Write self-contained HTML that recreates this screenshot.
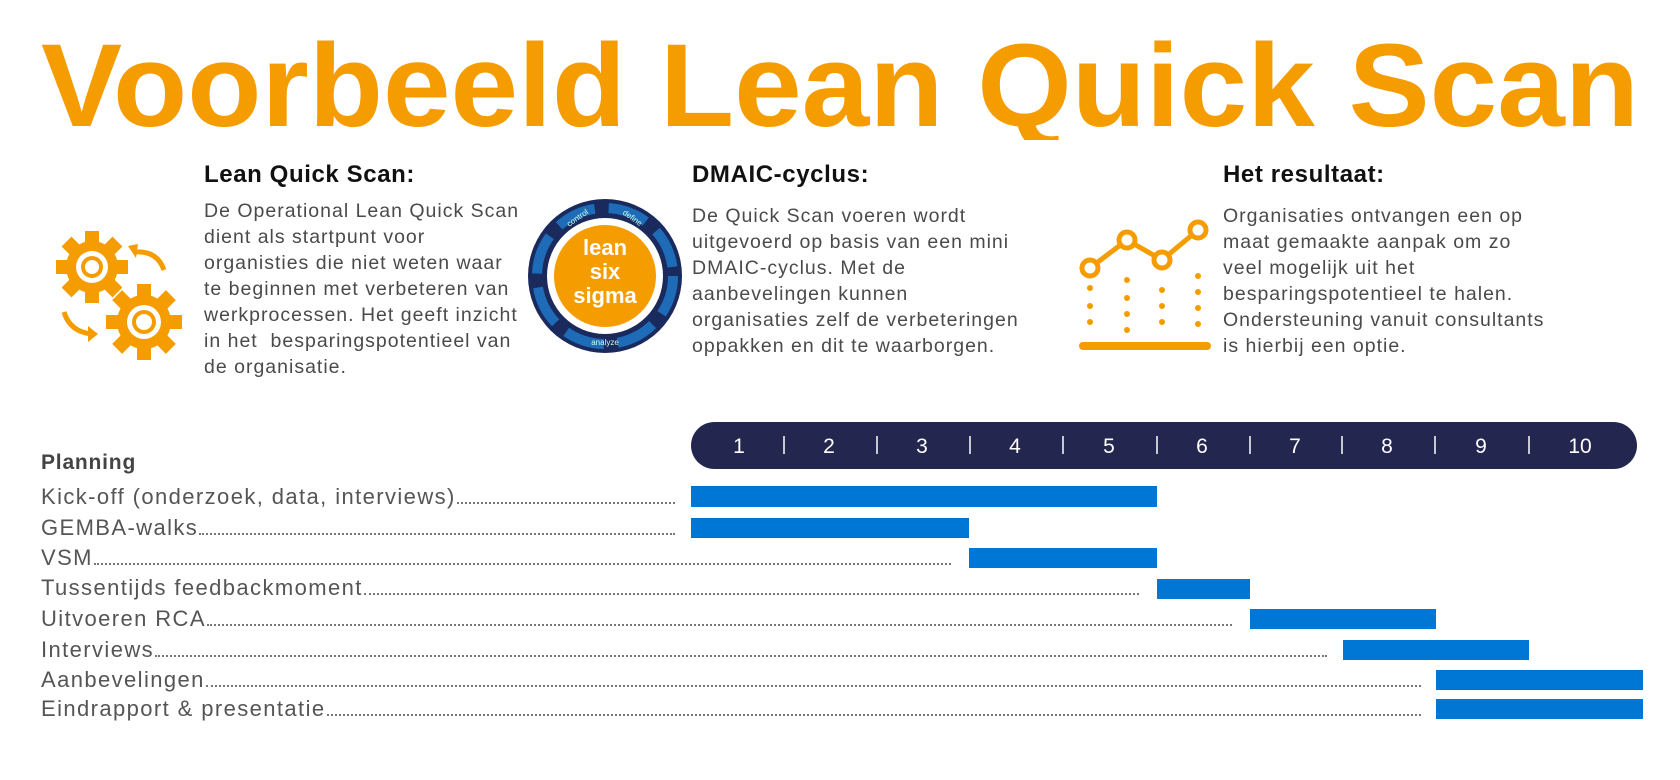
<!DOCTYPE html>
<html><head><meta charset="utf-8"><style>
body{margin:0;width:1680px;height:780px;background:#fff;position:relative;overflow:hidden;font-family:"Liberation Sans",sans-serif}
.abs{position:absolute}
h3{position:absolute;margin:0;font-size:24px;font-weight:bold;color:#111;letter-spacing:0.6px}
.body{position:absolute;font-size:19.5px;color:#4a4a4a;line-height:26px;letter-spacing:1px;white-space:nowrap}
.row{position:absolute;left:41px;height:30px;display:flex;align-items:flex-end;font-size:22px;color:#555;white-space:nowrap;letter-spacing:1.4px}
.row .ld{flex:1;border-bottom:2px dotted #777;margin-bottom:6px;margin-left:1px}
.bar{position:absolute;height:20px;background:#0077d4}
</style></head><body>
<svg class="abs" style="left:0;top:0" width="1680" height="140">
<text x="41" y="126" font-family="Liberation Sans" font-weight="bold" font-size="118" fill="#f59c00" textLength="1598" lengthAdjust="spacingAndGlyphs">Voorbeeld Lean Quick Scan</text>
</svg>

<h3 style="left:204px;top:161px">Lean Quick Scan:</h3>
<div class="body" style="left:204px;top:198px">De Operational Lean Quick Scan<br>dient als startpunt voor<br>organisties die niet weten waar<br>te beginnen met verbeteren van<br>werkprocessen. Het geeft inzicht<br>in het &nbsp;besparingspotentieel van<br>de organisatie.</div>

<h3 style="left:692px;top:161px">DMAIC-cyclus:</h3>
<div class="body" style="left:692px;top:203px">De Quick Scan voeren wordt<br>uitgevoerd op basis van een mini<br>DMAIC-cyclus. Met de<br>aanbevelingen kunnen<br>organisaties zelf de verbeteringen<br>oppakken en dit te waarborgen.</div>

<h3 style="left:1223px;top:161px">Het resultaat:</h3>
<div class="body" style="left:1223px;top:203px">Organisaties ontvangen een op<br>maat gemaakte aanpak om zo<br>veel mogelijk uit het<br>besparingspotentieel te halen.<br>Ondersteuning vanuit consultants<br>is hierbij een optie.</div>

<!-- gears -->
<svg class="abs" style="left:52px;top:222px" width="135" height="150" viewBox="0 0 135 150">
<g fill="#f59c00">
<g transform="translate(40,45)">
<circle r="26"/>
<g><rect x="-7" y="-36" width="14" height="72"/><rect x="-7" y="-36" width="14" height="72" transform="rotate(45)"/><rect x="-7" y="-36" width="14" height="72" transform="rotate(90)"/><rect x="-7" y="-36" width="14" height="72" transform="rotate(135)"/></g>
<circle r="16" fill="#fff"/><circle r="11"/><circle r="7" fill="#fff"/>
</g>
<g transform="translate(92,100)">
<circle r="27"/>
<g><rect x="-7" y="-38" width="14" height="76"/><rect x="-7" y="-38" width="14" height="76" transform="rotate(45)"/><rect x="-7" y="-38" width="14" height="76" transform="rotate(90)"/><rect x="-7" y="-38" width="14" height="76" transform="rotate(135)"/></g>
<circle r="17" fill="#fff"/><circle r="12"/><circle r="8" fill="#fff"/>
</g>
</g>
<path d="M82 30 Q105 28 112 48" stroke="#f59c00" stroke-width="5" fill="none"/>
<path d="M76 24 L86 22 L84 36 Z" fill="#f59c00"/>
<path d="M12 90 Q18 110 40 112" stroke="#f59c00" stroke-width="5" fill="none"/>
<path d="M46 112 L36 104 L36 120 Z" fill="#f59c00"/>
</svg>

<!-- lean six sigma -->
<svg class="abs" style="left:527px;top:198px" width="156" height="156" viewBox="0 0 156 156">
<circle cx="78" cy="78" r="77" fill="#1b2a5c"/>
<circle cx="78" cy="78" r="68" fill="none" stroke="#1e6bb8" stroke-width="10" stroke-dasharray="40 14"/>
<circle cx="78" cy="78" r="58" fill="#fff"/>
<circle cx="78" cy="78" r="51" fill="#f59c00"/>
<g font-family="Liberation Sans" font-weight="bold" font-size="22" fill="#fff" text-anchor="middle">
<text x="78" y="57">lean</text><text x="78" y="81">six</text><text x="78" y="105">sigma</text></g>
<g font-family="Liberation Sans" font-size="8" fill="#cfe" text-anchor="middle">
<text x="52" y="22" transform="rotate(-35 52 22)">control</text><text x="104" y="22" transform="rotate(35 104 22)">define</text>
<text x="78" y="147">analyze</text></g>
</svg>

<!-- chart icon -->
<svg class="abs" style="left:1077px;top:218px" width="136" height="140" viewBox="0 0 136 140">
<g fill="#f59c00">
<circle cx="13" cy="70" r="3"/><circle cx="13" cy="88" r="3"/><circle cx="13" cy="104" r="3"/>
<circle cx="50" cy="62" r="3"/><circle cx="50" cy="80" r="3"/><circle cx="50" cy="96" r="3"/><circle cx="50" cy="112" r="3"/>
<circle cx="85" cy="72" r="3"/><circle cx="85" cy="88" r="3"/><circle cx="85" cy="104" r="3"/>
<circle cx="121" cy="58" r="3"/><circle cx="121" cy="74" r="3"/><circle cx="121" cy="90" r="3"/><circle cx="121" cy="106" r="3"/>
<rect x="2" y="124" width="132" height="8" rx="4"/>
</g>
<polyline points="13,50 50,22 85,42 121,12" fill="none" stroke="#f59c00" stroke-width="5"/>
<g fill="#fff" stroke="#f59c00" stroke-width="5"><circle cx="13" cy="50" r="8"/><circle cx="50" cy="22" r="8"/><circle cx="85" cy="42" r="8"/><circle cx="121" cy="12" r="8"/></g>
</svg>

<div class="abs" style="left:41px;top:451px;font-size:21px;font-weight:bold;color:#444;letter-spacing:0.8px">Planning</div>

<svg class="abs" style="left:691px;top:422px" width="946" height="48">
<rect x="0" y="0" width="946" height="47" rx="23.5" fill="#23264f"/>
<g font-family="Liberation Sans" font-size="21" fill="#fff" text-anchor="middle">
<text x="48" y="31">1</text><text x="138" y="31">2</text><text x="231" y="31">3</text><text x="324" y="31">4</text><text x="418" y="31">5</text><text x="511" y="31">6</text><text x="604" y="31">7</text><text x="696" y="31">8</text><text x="790" y="31">9</text><text x="889" y="31">10</text>
</g>
<g stroke="#fff" stroke-width="1.5">
<line x1="93" y1="14" x2="93" y2="32"/><line x1="186" y1="14" x2="186" y2="32"/><line x1="279" y1="14" x2="279" y2="32"/><line x1="372" y1="14" x2="372" y2="32"/><line x1="466" y1="14" x2="466" y2="32"/><line x1="559" y1="14" x2="559" y2="32"/><line x1="651" y1="14" x2="651" y2="32"/><line x1="744" y1="14" x2="744" y2="32"/><line x1="838" y1="14" x2="838" y2="32"/>
</g>
</svg>

<div class="row" style="top:480px;width:634px">Kick-off (onderzoek, data, interviews)<span class="ld"></span></div>
<div class="row" style="top:511px;width:634px">GEMBA-walks<span class="ld"></span></div>
<div class="row" style="top:541px;width:910px">VSM<span class="ld"></span></div>
<div class="row" style="top:571px;width:1098px">Tussentijds feedbackmoment<span class="ld"></span></div>
<div class="row" style="top:602px;width:1191px">Uitvoeren RCA<span class="ld"></span></div>
<div class="row" style="top:633px;width:1286px">Interviews<span class="ld"></span></div>
<div class="row" style="top:663px;width:1380px">Aanbevelingen<span class="ld"></span></div>
<div class="row" style="top:692px;width:1380px">Eindrapport &amp; presentatie<span class="ld"></span></div>

<div class="bar" style="left:691px;width:466px;top:486px;height:21px"></div>
<div class="bar" style="left:691px;width:278px;top:518px"></div>
<div class="bar" style="left:969px;width:188px;top:548px"></div>
<div class="bar" style="left:1157px;width:93px;top:579px"></div>
<div class="bar" style="left:1250px;width:186px;top:609px"></div>
<div class="bar" style="left:1343px;width:186px;top:640px"></div>
<div class="bar" style="left:1436px;width:207px;top:670px"></div>
<div class="bar" style="left:1436px;width:207px;top:699px"></div>
</body></html>
